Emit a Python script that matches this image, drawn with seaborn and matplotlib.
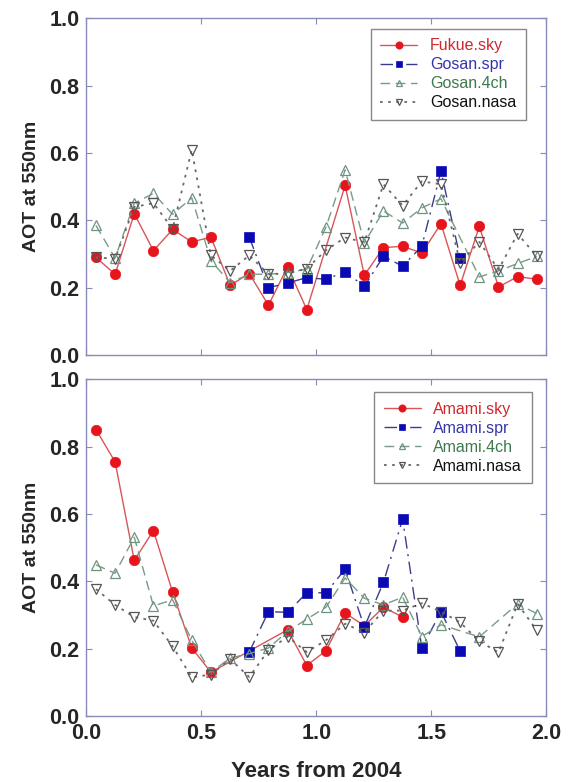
import numpy as np
import pandas as pd
import matplotlib
matplotlib.use("Agg")
import matplotlib.pyplot as plt
import seaborn as sns

nan = np.nan

# month index within 2004-2005, plotted at mid-month
months = np.arange(24)
years = (months + 0.5) / 12

# top panel: Fukue / Gosan
fukue_sky = [0.29, 0.24, 0.42, 0.31, 0.373, 0.336, 0.35, 0.207, 0.242, 0.148, 0.262, 0.135,
             nan, 0.504, 0.237, 0.319, 0.323, 0.303, 0.39, 0.207, 0.382, 0.202, 0.233, 0.225]
gosan_spr = [nan, nan, nan, nan, nan, nan, nan, nan, 0.35, 0.2, 0.214, 0.23,
             0.225, 0.247, 0.204, 0.293, 0.264, 0.323, 0.546, 0.289, nan, nan, nan, nan]
gosan_4ch = [0.385, 0.288, 0.451, 0.48, 0.418, 0.467, 0.28, 0.215, 0.24, 0.24, 0.245, 0.255,
             0.38, 0.55, 0.333, 0.428, 0.392, 0.437, 0.464, nan, 0.232, 0.25, 0.272, 0.293]
gosan_nasa = [0.29, 0.286, 0.44, 0.451, 0.375, 0.61, 0.296, 0.25, 0.296, 0.24, 0.242, 0.257,
              0.311, 0.349, 0.335, 0.507, 0.444, 0.516, 0.507, 0.274, 0.336, 0.254, 0.36, 0.293]

# bottom panel: Amami
amami_sky = [0.851, 0.755, 0.462, 0.551, 0.368, 0.202, 0.13, nan, nan, nan, 0.256, 0.15,
             0.194, 0.306, 0.268, 0.323, 0.294, nan, nan, nan, nan, nan, nan, nan]
amami_spr = [nan, nan, nan, nan, nan, nan, nan, nan, 0.19, 0.31, 0.308, 0.366,
             0.366, 0.436, 0.264, 0.397, 0.585, 0.202, 0.31, 0.193, nan, nan, nan, nan]
amami_4ch = [0.449, 0.424, 0.531, 0.327, 0.345, 0.225, 0.13, 0.172, 0.185, 0.202, 0.251, 0.288,
             0.323, 0.41, 0.35, 0.33, 0.353, 0.236, 0.271, nan, 0.235, nan, 0.333, 0.304]
amami_nasa = [0.377, 0.33, 0.294, 0.283, 0.207, 0.115, 0.123, 0.169, 0.116, 0.195, 0.236, 0.19,
              0.225, 0.274, 0.248, 0.313, 0.313, 0.335, 0.31, 0.278, 0.222, 0.189, 0.333, 0.254]

top_names = ["Fukue.sky", "Gosan.spr", "Gosan.4ch", "Gosan.nasa"]
bottom_names = ["Amami.sky", "Amami.spr", "Amami.4ch", "Amami.nasa"]

sns.set_style("ticks")
plt.rcParams["font.family"] = ["Liberation Sans", "DejaVu Sans"]

# one style per instrument type (sky, spr, 4ch, nasa)
styles = [
    dict(color="#d8555a", linestyle="-", lw=1.0, marker="o", ms=7.5,
         markerfacecolor="#e8141c", markeredgecolor="#e8141c", markeredgewidth=0.5),
    dict(color="#3c3c8c", linestyle=(0, (9, 4, 1.5, 4)), lw=1.0, marker="s", ms=7,
         markerfacecolor="#0a0ab4", markeredgecolor="#0a0ab4", markeredgewidth=0.5),
    dict(color="#7a9a88", linestyle=(0, (7, 4)), lw=1.0, marker="^", ms=7,
         markerfacecolor="none", markeredgecolor="#6e9480", markeredgewidth=0.9),
    dict(color="#6a6a6a", linestyle=(0, (1.5, 3)), lw=1.3, marker="v", ms=7,
         markerfacecolor="none", markeredgecolor="#555555", markeredgewidth=0.9),
]
text_colors = ["#d0282e", "#3535a8", "#3d7a4c", "#111111"]

fig = plt.figure(figsize=(5.68, 7.82), dpi=100)
ax_top = fig.add_axes([0.152, 0.546, 0.810, 0.4305])
ax_bot = fig.add_axes([0.152, 0.0844, 0.810, 0.4305])

panels = [
    (ax_top, top_names, [fukue_sky, gosan_spr, gosan_4ch, gosan_nasa], (0.955, 0.969)),
    (ax_bot, bottom_names, [amami_sky, amami_spr, amami_4ch, amami_nasa], (0.968, 0.962)),
]

for ax, names, series, anchor in panels:
    for name, vals, st in zip(names, series, styles):
        df = pd.DataFrame({"year": years, "aot": vals}).dropna()
        sns.lineplot(data=df, x="year", y="aot", ax=ax, label=name,
                     estimator=None, sort=False, **st)

    ax.set_xlim(0, 2.0)
    ax.set_ylim(0, 1.0)
    ax.set_xticks([0, 0.5, 1.0, 1.5, 2.0])
    ax.set_yticks([0, 0.2, 0.4, 0.6, 0.8, 1.0])
    ax.set_yticklabels(["0.0", "0.2", "0.4", "0.6", "0.8", "1.0"])
    ax.tick_params(direction="in", top=True, right=True, length=4, width=0.8,
                   color="#8a8ab8", labelsize=15.5, pad=5)
    for lab in ax.get_yticklabels() + ax.get_xticklabels():
        lab.set_fontweight("bold")
    for sp in ax.spines.values():
        sp.set_visible(True)
        sp.set_color("#8a8ab8")
        sp.set_linewidth(1.0)
    ax.set_ylabel("AOT at 550nm", fontsize=14, fontweight="bold", labelpad=7)
    ax.set_xlabel("")

    leg = ax.legend(loc="upper right", bbox_to_anchor=anchor, borderaxespad=0,
                    fontsize=11.5, handlelength=2.3, handletextpad=0.8,
                    labelspacing=0.25, borderpad=0.6, fancybox=False,
                    markerscale=0.7, framealpha=1, edgecolor="#888888")
    leg.get_frame().set_linewidth(1.0)
    for txt, c in zip(leg.get_texts(), text_colors):
        txt.set_color(c)

ax_top.set_xticklabels([])
ax_bot.set_xticklabels(["0.0", "0.5", "1.0", "1.5", "2.0"])
for lab in ax_bot.get_xticklabels():
    lab.set_fontweight("bold")
ax_bot.set_xlabel("Years from 2004", fontsize=16, fontweight="bold", labelpad=12)

fig.savefig("out.png", dpi=100)
